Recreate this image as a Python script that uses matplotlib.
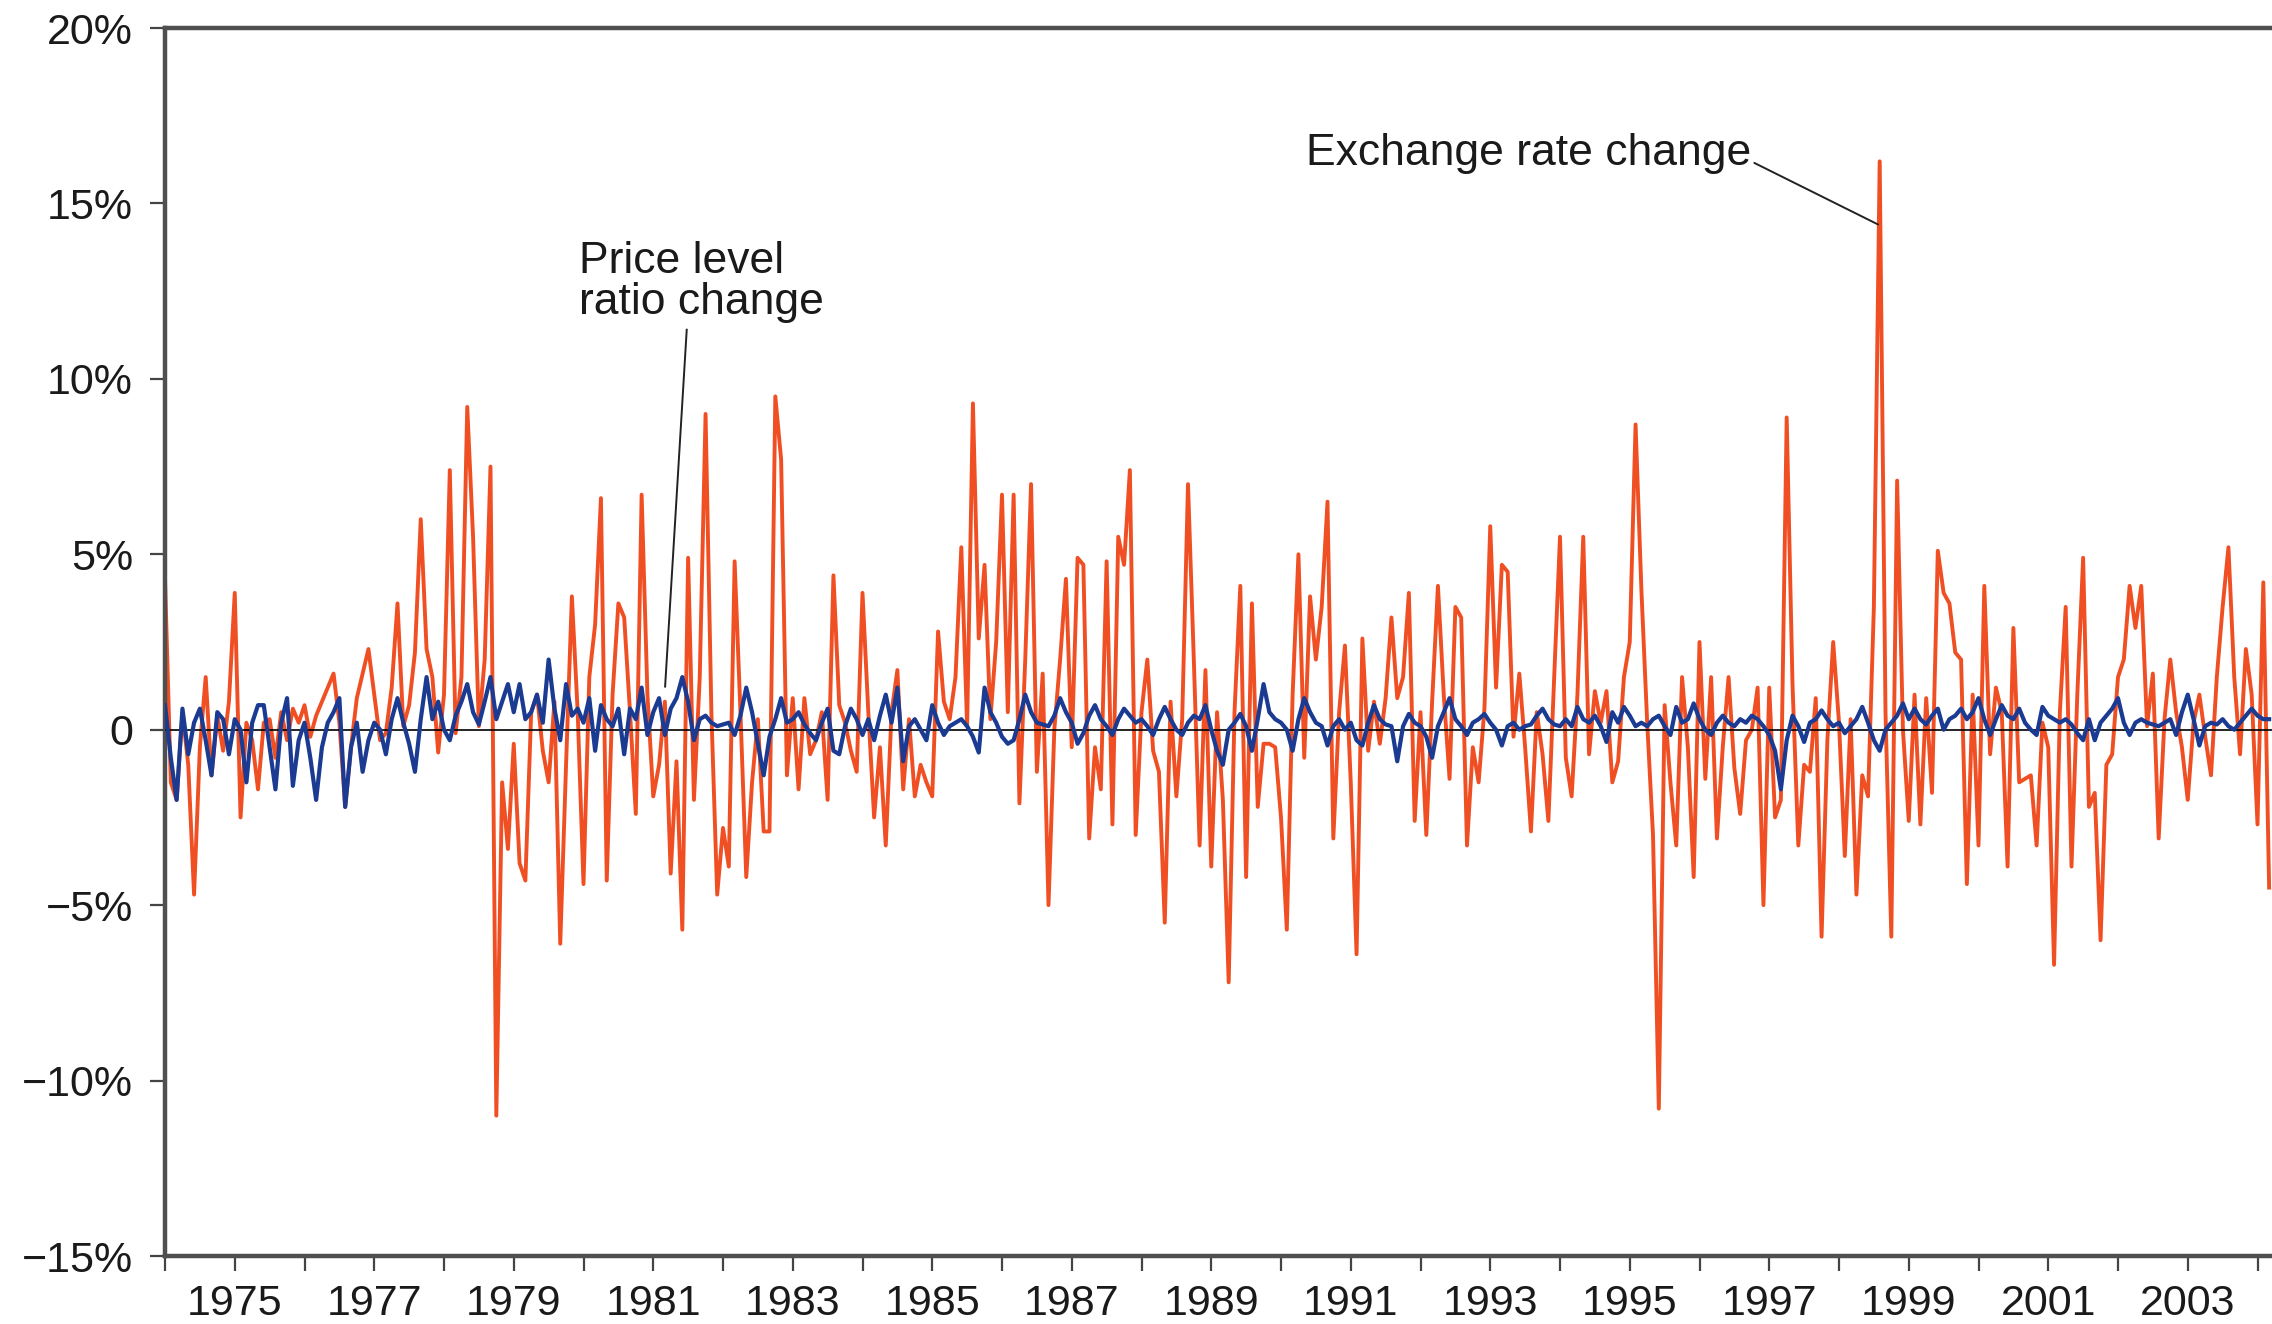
import numpy as np
import matplotlib
matplotlib.use("Agg")
import matplotlib.pyplot as plt

plt.rcParams['font.family'] = ['Liberation Sans', 'DejaVu Sans']

# monthly % changes, starting January 1974
start_year = 1974
exchange_rate_change = [
    4.3, -1.5, -2.0, 0.5, -1.0, -4.7, -0.5, 1.5, -1.3, 0.4, -0.6, 0.8,
    3.9, -2.5, 0.2, -0.3, -1.7, 0.2, 0.3, -0.8, 0.5, -0.3, 0.6, 0.2,
    0.7, -0.2, 0.4, 0.8, 1.2, 1.6, 0.2, -2.2, -0.5, 0.9, 1.6, 2.3,
    1.0, -0.3, -0.1, 1.2, 3.6, 0.1, 0.7, 2.2, 6.0, 2.3, 1.5, -0.65,
    1.0, 7.4, -0.1, 1.5, 9.2, 5.5, 0.1, 2.0, 7.5, -11.0, -1.5, -3.4,
    -0.4, -3.8, -4.3, 0.5, 1.0, -0.6, -1.5, 0.8, -6.1, -1.0, 3.8, 0.5,
    -4.4, 1.5, 3.0, 6.6, -4.3, 1.0, 3.6, 3.2, 0.5, -2.4, 6.7, 1.0,
    -1.9, -1.0, 0.8, -4.1, -0.9, -5.7, 4.9, -2.0, 1.5, 9.0, 0.5, -4.7,
    -2.8, -3.9, 4.8, 0.5, -4.2, -1.5, 0.3, -2.9, -2.9, 9.5, 7.7, -1.3,
    0.9, -1.7, 0.9, -0.7, -0.3, 0.5, -2.0, 4.4, 0.7, 0.2, -0.6, -1.2,
    3.9, 0.5, -2.5, -0.5, -3.3, 0.5, 1.7, -1.7, 0.3, -1.9, -1.0, -1.5,
    -1.9, 2.8, 0.8, 0.3, 1.5, 5.2, 0.1, 9.3, 2.6, 4.7, 0.3, 2.5,
    6.7, 0.5, 6.7, -2.1, 2.0, 7.0, -1.2, 1.6, -5.0, 0.0, 2.0, 4.3,
    -0.5, 4.9, 4.7, -3.1, -0.5, -1.7, 4.8, -2.7, 5.5, 4.7, 7.4, -3.0,
    0.5, 2.0, -0.6, -1.2, -5.5, 0.8, -1.9, 0.3, 7.0, 2.0, -3.3, 1.7,
    -3.9, 0.5, -2.0, -7.2, 0.5, 4.1, -4.2, 3.6, -2.2, -0.4, -0.4, -0.5,
    -2.5, -5.7, 1.0, 5.0, -0.8, 3.8, 2.0, 3.5, 6.5, -3.1, 0.5, 2.4,
    -1.5, -6.4, 2.6, -0.6, 0.8, -0.4, 0.9, 3.2, 0.9, 1.5, 3.9, -2.6,
    0.5, -3.0, 0.8, 4.1, 1.0, -1.4, 3.5, 3.2, -3.3, -0.5, -1.5, 0.6,
    5.8, 1.2, 4.7, 4.5, -0.2, 1.6, -0.5, -2.9, 0.5, -0.7, -2.6, 1.5,
    5.5, -0.8, -1.9, 1.0, 5.5, -0.7, 1.1, 0.2, 1.1, -1.5, -0.9, 1.5,
    2.5, 8.7, 4.0, 0.2, -3.0, -10.8, 0.7, -1.5, -3.3, 1.5, -0.5, -4.2,
    2.5, -1.4, 1.5, -3.1, -0.5, 1.5, -1.1, -2.4, -0.3, 0.0, 1.2, -5.0,
    1.2, -2.5, -2.0, 8.9, 1.3, -3.3, -1.0, -1.2, 0.9, -5.9, -0.3, 2.5,
    0.2, -3.6, 0.3, -4.7, -1.3, -1.9, 3.5, 16.2, 0.5, -5.9, 7.1, 0.0,
    -2.6, 1.0, -2.7, 0.9, -1.8, 5.1, 3.9, 3.6, 2.2, 2.0, -4.4, 1.0,
    -3.3, 4.1, -0.7, 1.2, 0.5, -3.9, 2.9, -1.5, -1.4, -1.3, -3.3, 0.2,
    -0.5, -6.7, 0.5, 3.5, -3.9, 1.0, 4.9, -2.2, -1.8, -6.0, -1.0, -0.7,
    1.5, 2.0, 4.1, 2.9, 4.1, 0.1, 1.6, -3.1, 0.3, 2.0, 0.5, -0.5,
    -2.0, 0.2, 1.0, -0.2, -1.3, 1.5, 3.5, 5.2, 1.5, -0.7, 2.3, 1.0,
    -2.7, 4.2, -4.5,
]
price_ratio_change = [
    0.7, -0.8, -2.0, 0.6, -0.7, 0.2, 0.6, -0.3, -1.3, 0.5, 0.3, -0.7,
    0.3, 0.0, -1.5, 0.2, 0.7, 0.7, -0.5, -1.7, 0.2, 0.9, -1.6, -0.3,
    0.2, -0.8, -2.0, -0.5, 0.2, 0.5, 0.9, -2.2, -0.5, 0.2, -1.2, -0.3,
    0.2, 0.0, -0.7, 0.3, 0.9, 0.2, -0.4, -1.2, 0.3, 1.5, 0.3, 0.8,
    0.0, -0.3, 0.4, 0.8, 1.3, 0.5, 0.15, 0.8, 1.5, 0.3, 0.8, 1.3,
    0.5, 1.3, 0.3, 0.5, 1.0, 0.2, 2.0, 0.6, -0.3, 1.3, 0.4, 0.6,
    0.2, 0.9, -0.6, 0.7, 0.3, 0.1, 0.6, -0.7, 0.6, 0.3, 1.2, -0.15,
    0.5, 0.9, -0.15, 0.6, 0.9, 1.5, 0.8, -0.3, 0.3, 0.4, 0.2, 0.1,
    0.15, 0.2, -0.15, 0.4, 1.2, 0.5, -0.4, -1.3, -0.2, 0.3, 0.9, 0.2,
    0.3, 0.5, 0.15, -0.1, -0.3, 0.2, 0.6, -0.6, -0.7, 0.1, 0.6, 0.3,
    -0.15, 0.3, -0.3, 0.4, 1.0, 0.2, 1.2, -0.9, 0.1, 0.3, 0.0, -0.3,
    0.7, 0.2, -0.15, 0.1, 0.2, 0.3, 0.1, -0.2, -0.65, 1.2, 0.5, 0.2,
    -0.2, -0.4, -0.3, 0.3, 1.0, 0.5, 0.2, 0.15, 0.1, 0.4, 0.9, 0.5,
    0.2, -0.4, -0.1, 0.4, 0.7, 0.3, 0.1, -0.15, 0.3, 0.6, 0.4, 0.2,
    0.3, 0.1, -0.15, 0.3, 0.65, 0.3, 0.0, -0.15, 0.2, 0.4, 0.3, 0.7,
    0.0, -0.6, -1.0, 0.0, 0.2, 0.45, 0.1, -0.6, 0.3, 1.3, 0.5, 0.3,
    0.2, 0.0, -0.6, 0.3, 0.9, 0.5, 0.2, 0.1, -0.45, 0.1, 0.3, 0.0,
    0.2, -0.3, -0.45, 0.2, 0.7, 0.3, 0.15, 0.1, -0.9, 0.1, 0.45, 0.2,
    0.1, -0.2, -0.8, 0.1, 0.5, 0.9, 0.3, 0.1, -0.15, 0.2, 0.3, 0.45,
    0.2, 0.0, -0.45, 0.1, 0.2, 0.0, 0.1, 0.15, 0.4, 0.6, 0.3, 0.15,
    0.1, 0.3, 0.1, 0.65, 0.3, 0.2, 0.4, 0.1, -0.35, 0.5, 0.2, 0.65,
    0.4, 0.1, 0.2, 0.1, 0.3, 0.4, 0.1, -0.15, 0.65, 0.2, 0.3, 0.75,
    0.3, 0.0, -0.15, 0.2, 0.4, 0.2, 0.1, 0.3, 0.2, 0.4, 0.3, 0.1,
    -0.15, -0.6, -1.7, -0.3, 0.4, 0.1, -0.35, 0.2, 0.3, 0.55, 0.3, 0.1,
    0.2, -0.1, 0.1, 0.3, 0.65, 0.2, -0.3, -0.6, 0.0, 0.2, 0.4, 0.75,
    0.3, 0.6, 0.3, 0.15, 0.4, 0.6, 0.0, 0.3, 0.4, 0.6, 0.3, 0.5,
    0.9, 0.3, -0.15, 0.3, 0.7, 0.4, 0.3, 0.6, 0.2, 0.0, -0.15, 0.65,
    0.4, 0.3, 0.2, 0.3, 0.15, -0.1, -0.3, 0.3, -0.3, 0.2, 0.4, 0.6,
    0.9, 0.2, -0.15, 0.2, 0.3, 0.2, 0.15, 0.1, 0.2, 0.3, -0.15, 0.5,
    1.0, 0.3, -0.45, 0.1, 0.2, 0.15, 0.3, 0.1, 0.0, 0.2, 0.4, 0.6,
    0.4, 0.3, 0.3,
]
y_ticks = [-15, -10, -5, 0, 5, 10, 15, 20]
y_tick_labels = ['\u221215%', '\u221210%', '\u22125%', '0', '5%', '10%', '15%', '20%']
label_years = list(range(1975, 2004, 2))

ORANGE = '#f04f23'
BLUE = '#1b3a92'
SPINE = '#4f4f4f'

months_fx = start_year + np.arange(len(exchange_rate_change)) / 12.0
months_p = start_year + np.arange(len(price_ratio_change)) / 12.0

W, H = 2272, 1324
fig = plt.figure(figsize=(W / 100, H / 100), dpi=100)
ax = fig.add_axes([165 / W, 1 - 1256 / H, (W - 165) / W, (1256 - 28) / H])

ax.plot(months_fx, exchange_rate_change, color=ORANGE, lw=2.8, zorder=2)
ax.axhline(0, color='black', lw=1.2, zorder=3)
ax.plot(months_p, price_ratio_change, color=BLUE, lw=3.0, zorder=4)

ax.set_xlim(1974, 1974 + (W - 165) / 69.75)
ax.set_ylim(-15, 20)

ax.set_yticks(y_ticks)
ax.set_yticklabels(y_tick_labels)
ax.set_xticks(range(1974, 2005))
ax.set_xticklabels([str(y) if y in label_years else '' for y in range(1974, 2005)])

for side in ['left', 'top', 'bottom']:
    ax.spines[side].set_linewidth(3.2)
    ax.spines[side].set_color(SPINE)
ax.spines['right'].set_visible(False)

ax.tick_params(axis='both', direction='out', length=11, width=1.6,
               color='#444444', labelcolor='#1a1a1a', labelsize=31)
ax.tick_params(axis='y', pad=12)
ax.tick_params(axis='x', pad=9)

# annotations
ax.annotate('Exchange rate change', xy=(1998.56, 14.4), xytext=(1979.94 + (1306 - 579) / 69.75, 16.1),
            fontsize=32, color='#1a1a1a', va='baseline', ha='left',
            arrowprops=dict(arrowstyle='-', color='#222222', lw=1.4,
                            shrinkA=0, shrinkB=0, relpos=(1.0, 0.3)))
ax.text(1979.94, 11.85, 'Price level\nratio change', fontsize=32, color='#1a1a1a',
        va='baseline', ha='left', linespacing=1.0)
ax.plot([1981.48, 1981.17], [11.4, 1.23], color='#222222', lw=1.4, zorder=5)

fig.savefig('out.png', dpi=100)
